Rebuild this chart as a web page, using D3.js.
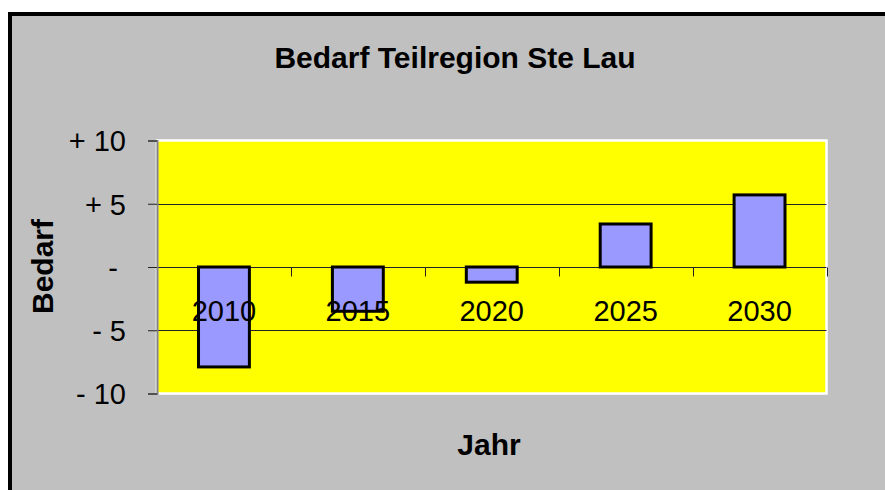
<!DOCTYPE html>
<html>
<head>
<meta charset="utf-8">
<script src="https://cdn.jsdelivr.net/npm/d3@7"></script>
<style>
html,body{margin:0;padding:0;background:#fff;}
svg{display:block;}
text{font-family:"Liberation Sans",Arial,sans-serif;fill:#000;}
</style>
</head>
<body>
<svg id="chart" width="885" height="490"></svg>
<script>
const categories = ["2010","2015","2020","2025","2030"];
const values = [-7.9, -3.5, -1.2, 3.4, 5.7];
const tickValues = [-10, -5, 0, 5, 10];
const tickLabels = ["- 10", "- 5", "-\u00a0", "+ 5", "+ 10"];
const titleText = "Bedarf Teilregion Ste Lau";
const yTitle = "Bedarf";
const xTitle = "Jahr";

const svg = d3.select("#chart");

// chart background with thick black frame (clipped on right/bottom)
svg.append("rect")
  .attr("x", 10).attr("y", 14).attr("width", 900).attr("height", 500)
  .attr("fill", "#c0c0c0").attr("stroke", "#000").attr("stroke-width", 4);

const plot = {left: 157, right: 826.5, top: 140.5, bottom: 393.5};

const x = d3.scaleBand().domain(categories)
  .range([plot.left, plot.right]).paddingInner(0.62).paddingOuter(0.31);
const y = d3.scaleLinear().domain([-10, 10]).range([plot.bottom, plot.top]);

// plot area
svg.append("rect")
  .attr("x", plot.left).attr("y", plot.top)
  .attr("width", plot.right - plot.left).attr("height", plot.bottom - plot.top)
  .attr("fill", "#ffff00").attr("stroke", "#ffffff").attr("stroke-width", 2.5);

// gridlines
svg.append("g").selectAll("line")
  .data(tickValues.filter(v => v !== 10 && v !== -10))
  .join("line")
  .attr("x1", plot.left).attr("x2", plot.right)
  .attr("y1", d => Math.round(y(d)) + 0.5).attr("y2", d => Math.round(y(d)) + 0.5)
  .attr("stroke", "#222").attr("stroke-width", 1);

// bars
svg.append("g").selectAll("rect")
  .data(categories.map((c, i) => ({c, v: values[i]})))
  .join("rect")
  .attr("x", d => x(d.c))
  .attr("width", x.bandwidth())
  .attr("y", d => y(Math.max(0, d.v)))
  .attr("height", d => Math.abs(y(d.v) - y(0)))
  .attr("fill", "#9999ff").attr("stroke", "#000").attr("stroke-width", 3);

// category axis at zero with downward ticks between categories
const zeroY = Math.round(y(0)) + 0.5;
const catTickX = categories.map(c => x(c) - x.step() * x.paddingOuter() + x.step());
svg.append("g").selectAll("line")
  .data(catTickX)
  .join("line")
  .attr("x1", d => Math.round(d) + 0.5).attr("x2", d => Math.round(d) + 0.5)
  .attr("y1", zeroY).attr("y2", zeroY + 9)
  .attr("stroke", "#222").attr("stroke-width", 1);

// category labels (drawn over bars)
svg.append("g").selectAll("text")
  .data(categories)
  .join("text")
  .attr("x", d => x(d) + x.bandwidth() / 2)
  .attr("y", 321)
  .attr("text-anchor", "middle")
  .style("font-size", "29px")
  .text(d => d);

// value axis
const yAxis = d3.axisLeft(y).tickValues(tickValues)
  .tickFormat((d, i) => tickLabels[i]).tickSize(9).tickPadding(22);
const ga = svg.append("g").attr("transform", `translate(${plot.left},0)`).call(yAxis);
ga.select(".domain").attr("stroke", "#808080").attr("stroke-width", 2);
ga.selectAll(".tick line").attr("stroke", "#222");
ga.selectAll(".tick text")
  .style("font-size", "29px").style("font-family", "Liberation Sans, Arial, sans-serif")
  .attr("fill", "#000").attr("dy", "0.36em");

// titles
svg.append("text").attr("x", 455).attr("y", 68)
  .attr("text-anchor", "middle").style("font-size", "30px").style("font-weight", "bold")
  .text(titleText);
svg.append("text").attr("transform", "translate(53,266.5) rotate(-90)")
  .attr("text-anchor", "middle").style("font-size", "30px").style("font-weight", "bold")
  .text(yTitle);
svg.append("text").attr("x", 489).attr("y", 455)
  .attr("text-anchor", "middle").style("font-size", "30px").style("font-weight", "bold")
  .text(xTitle);
</script>
</body>
</html>
